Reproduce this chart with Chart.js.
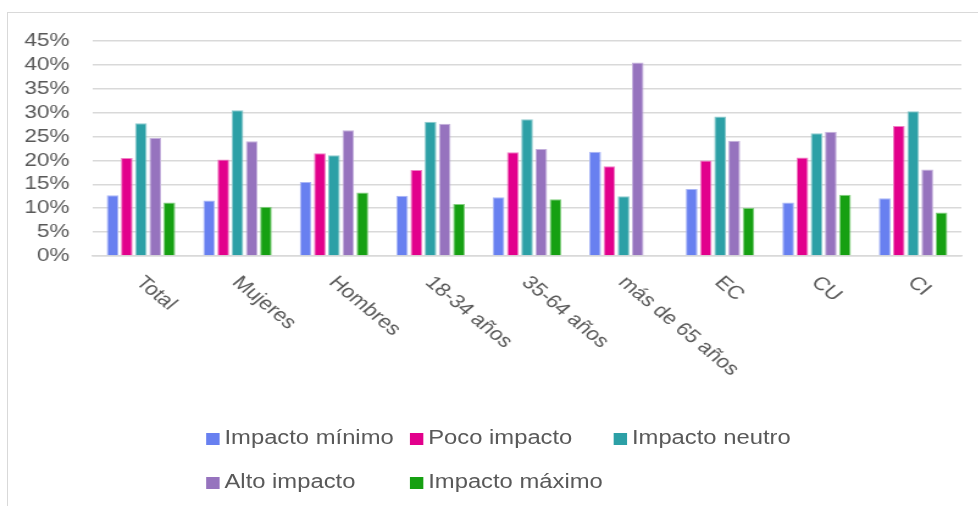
<!DOCTYPE html>
<html>
<head>
<meta charset="utf-8">
<script src="https://cdn.jsdelivr.net/npm/chart.js@4/dist/chart.umd.min.js"></script>
<style>
  html, body { margin: 0; padding: 0; background: #fff; }
  body { width: 978px; height: 506px; overflow: hidden; position: relative; }
  #frame { position: absolute; left: 7px; top: 12px; width: 990px; height: 520px;
           border-left: 1px solid #d9d9d9; border-top: 1px solid #d9d9d9; }
  #wrap { position: absolute; left: 0; top: 0; width: 802px; height: 506px;
          transform: scaleX(1.22); transform-origin: 0 0; }
  #legend { position: absolute; left: 169px; top: 425px; width: 520px;
            display: grid; grid-template-columns: 167px 167px 167px; row-gap: 20px;
            font: 19.5px "Liberation Sans", Arial, sans-serif; color: #595959; }
  #legend span.item { display: flex; align-items: center; height: 24px; white-space: nowrap; }
  #legend i { display: inline-block; width: 11px; height: 12.5px; margin-right: 4px; margin-top: 4px; }
</style>
</head>
<body>
<div id="frame"></div>
<div id="wrap">
  <canvas id="chart" width="802" height="506"></canvas>
  <div id="legend"></div>
</div>
<script>
const categories = ['Total', 'Mujeres', 'Hombres', '18-34 años', '35-64 años', 'más de 65 años', 'EC', 'CU', 'CI']
const seriesNames = ['Impacto mínimo', 'Poco impacto', 'Impacto neutro', 'Alto impacto', 'Impacto máximo']

// percentages per group
const impactoMinimo = [12.7, 11.6, 15.5, 12.6, 12.3, 21.8, 14.0, 11.2, 12.1]
const pocoImpacto = [20.5, 20.2, 21.5, 18.0, 21.7, 18.8, 20.0, 20.6, 27.2]
const impactoNeutro = [27.8, 30.5, 21.1, 28.1, 28.6, 12.5, 29.2, 25.7, 30.3]
const altoImpacto = [24.7, 24.0, 26.3, 27.7, 22.4, 40.5, 24.1, 26.0, 18.1]
const impactoMaximo = [11.2, 10.3, 13.3, 10.9, 11.9, null, 10.1, 12.8, 9.1]

const yMax = 45
const yStep = 5

const fills = ['#6880f0', '#e2008c', '#2ca0a6', '#9673be', '#16a012']
const edges = ['#aab6f6', '#ef7fc4', '#8ccacd', '#c4b0dc', '#84cf80']
const seriesData = [impactoMinimo, pocoImpacto, impactoNeutro, altoImpacto, impactoMaximo]

const textColor = '#595959'
const gridColor = '#d9d9d9'

// category names drawn slanted down to the right under each group
const slantedLabels = {
  id: 'slantedLabels',
  afterDraw(chart) {
    const ctx = chart.ctx
    const xs = chart.scales.x
    const y0 = chart.chartArea.bottom
    ctx.save()
    ctx.font = '18.5px "Liberation Sans", Arial, sans-serif'
    ctx.fillStyle = textColor
    ctx.textAlign = 'left'
    ctx.textBaseline = 'top'
    categories.forEach((c, i) => {
      const x = xs.getPixelForValue(i)
      ctx.save()
      ctx.translate(x + 5, y0 + 17)
      ctx.rotate(Math.PI / 4)
      ctx.fillText(c, 0, 0)
      ctx.restore()
    })
    ctx.restore()
  }
}

const datasets = seriesNames.map((name, k) => ({
  label: name,
  data: seriesData[k],
  backgroundColor: fills[k],
  borderColor: edges[k],
  borderWidth: 1,
  categoryPercentage: 0.736,
  barPercentage: 0.825
}))

const chart = new Chart(document.getElementById('chart'), {
  type: 'bar',
  data: { labels: categories, datasets: datasets },
  options: {
    responsive: false,
    animation: false,
    devicePixelRatio: 1,
    layout: { padding: { left: 0, right: 14, top: 41, bottom: 250 } },
    plugins: { legend: { display: false }, tooltip: { enabled: false } },
    scales: {
      x: {
        ticks: { display: false },
        grid: { display: false, drawTicks: false },
        border: { display: true, color: gridColor, width: 1.5 },
        afterFit(scale) { scale.height = 0 }
      },
      y: {
        min: 0,
        max: yMax,
        afterFit(scale) { scale.width = 76 },
        ticks: {
          stepSize: yStep,
          autoSkip: false,
          padding: 19,
          color: textColor,
          font: { family: '"Liberation Sans", Arial, sans-serif', size: 18.5 },
          callback: v => v + '%'
        },
        grid: { color: gridColor, lineWidth: 1.5, drawTicks: false },
        border: { display: false }
      }
    }
  },
  plugins: [slantedLabels]
})

// legend laid out in columns like the office chart
const legendBox = document.getElementById('legend')
chart.data.datasets.forEach(ds => {
  const item = document.createElement('span')
  item.className = 'item'
  item.innerHTML = `<i style="background:${ds.backgroundColor}"></i>${ds.label}`
  legendBox.appendChild(item)
})
</script>
</body>
</html>
